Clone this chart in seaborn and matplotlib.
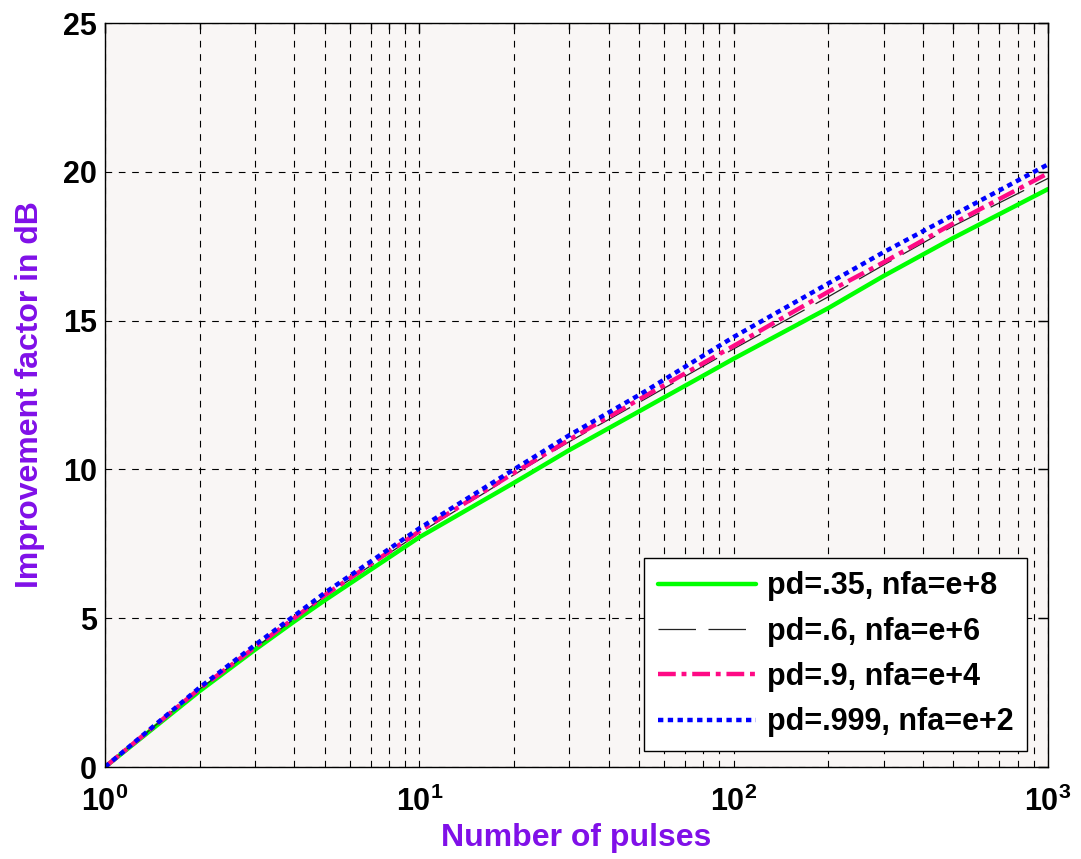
import numpy as np
import pandas as pd
import matplotlib
matplotlib.use("Agg")
import matplotlib.pyplot as plt
import seaborn as sns
from matplotlib.ticker import LogLocator, FixedLocator, NullFormatter

# ---- data ----
n_pulses = [1, 2, 3, 4, 5, 10, 20, 30, 50, 100, 200, 300, 500, 1000]
i_pd35 = [0, 2.55, 3.94, 4.89, 5.60, 7.72, 9.55, 10.65, 11.95, 13.72, 15.42, 16.50, 17.78, 19.42]
i_pd6 = [0, 2.62, 4.00, 4.98, 5.73, 7.86, 9.82, 10.93, 12.25, 14.05, 15.80, 16.87, 18.18, 19.78]
i_pd9 = [0, 2.63, 4.02, 5.00, 5.77, 7.92, 9.88, 11.00, 12.35, 14.15, 15.97, 16.96, 18.27, 19.95]
i_pd999 = [0, 2.67, 4.10, 5.08, 5.85, 8.02, 10.00, 11.15, 12.50, 14.45, 16.25, 17.30, 18.55, 20.25]
labels = ["pd=.35, nfa=e+8", "pd=.6, nfa=e+6", "pd=.9, nfa=e+4", "pd=.999, nfa=e+2"]
y_ticks = [0, 5, 10, 15, 20, 25]
x_ticks = [1, 10, 100, 1000]
x_ticklabels = [r"$10^{0}$", r"$10^{1}$", r"$10^{2}$", r"$10^{3}$"]

sns.set_style("white")
plt.rcParams["font.family"] = ["Liberation Sans", "DejaVu Sans"]
plt.rcParams["font.weight"] = "bold"
plt.rcParams["text.color"] = "black"
plt.rcParams["xtick.color"] = "black"
plt.rcParams["ytick.color"] = "black"
plt.rcParams["axes.labelcolor"] = "black"
plt.rcParams["mathtext.fontset"] = "custom"
plt.rcParams["mathtext.rm"] = "Liberation Sans:bold"
plt.rcParams["mathtext.it"] = "Liberation Sans:bold"
plt.rcParams["mathtext.bf"] = "Liberation Sans:bold"

fig = plt.figure(figsize=(10.81, 8.59), dpi=100)
ax = fig.add_axes([0.0971, 0.1071, 0.8724, 0.8661])
ax.set_facecolor("#f9f6f5")

styles = [
    dict(color="#00ff00", lw=3.2, ls="-"),
    dict(color="#222222", lw=0.9, ls=(0, (30, 10))),
    dict(color="#ff0a85", lw=3.2, ls=(0, (4, 1.3, 1.1, 1.3))),
    dict(color="#0000ff", lw=3.2, ls=(0, (1.2, 1))),
]
series = [i_pd35, i_pd6, i_pd9, i_pd999]
for vals, lab, st in zip(series, labels, styles):
    df = pd.DataFrame({"n": n_pulses, "v": vals})
    sns.lineplot(data=df, x="n", y="v", ax=ax, label=lab, color=st["color"],
                 linewidth=st["lw"], linestyle=st["ls"])

ax.set_xscale("log")
ax.set_xlim(1, 1000)
ax.set_ylim(0, 25)
ax.xaxis.set_major_locator(FixedLocator(x_ticks))
ax.set_xticklabels(x_ticklabels)
ax.xaxis.set_minor_locator(LogLocator(base=10, subs=np.arange(2, 10)))
ax.xaxis.set_minor_formatter(NullFormatter())
ax.set_yticks(y_ticks)

ax.grid(True, which="major", axis="both", color="black", linestyle=(0, (6, 6)), linewidth=0.8)
ax.grid(True, which="minor", axis="x", color="black", linestyle=(0, (6, 6)), linewidth=0.8)

ax.tick_params(axis="both", which="both", direction="in", top=True, right=True,
               labelsize=22, colors="black")
ax.tick_params(axis="x", which="major", pad=14)
ax.tick_params(axis="y", which="major", pad=6)
ax.tick_params(axis="both", which="major", length=7, width=1)
ax.tick_params(axis="x", which="minor", length=4, width=1)
for lbl in ax.get_xticklabels() + ax.get_yticklabels():
    lbl.set_fontweight("bold")
    lbl.set_color("black")
for s in ax.spines.values():
    s.set_color("black")
    s.set_linewidth(1.0)

purple = "#8010e8"
ax.set_xlabel("Number of pulses", fontsize=23, fontweight="bold", color=purple, labelpad=4)
ax.set_ylabel("Improvement factor in dB", fontsize=23, fontweight="bold", color=purple, labelpad=13)

leg = ax.legend(loc="lower right", bbox_to_anchor=(0.9777, 0.0215), borderaxespad=0,
                fontsize=22, frameon=True, fancybox=False,
                edgecolor="black", facecolor="white", framealpha=1,
                handlelength=3.2, handletextpad=0.35, borderpad=0.45,
                labelspacing=0.5)
leg.get_frame().set_linewidth(1.0)
for t in leg.get_texts():
    t.set_fontweight("bold")
    t.set_color("black")

fig.savefig("out.png", dpi=100)
